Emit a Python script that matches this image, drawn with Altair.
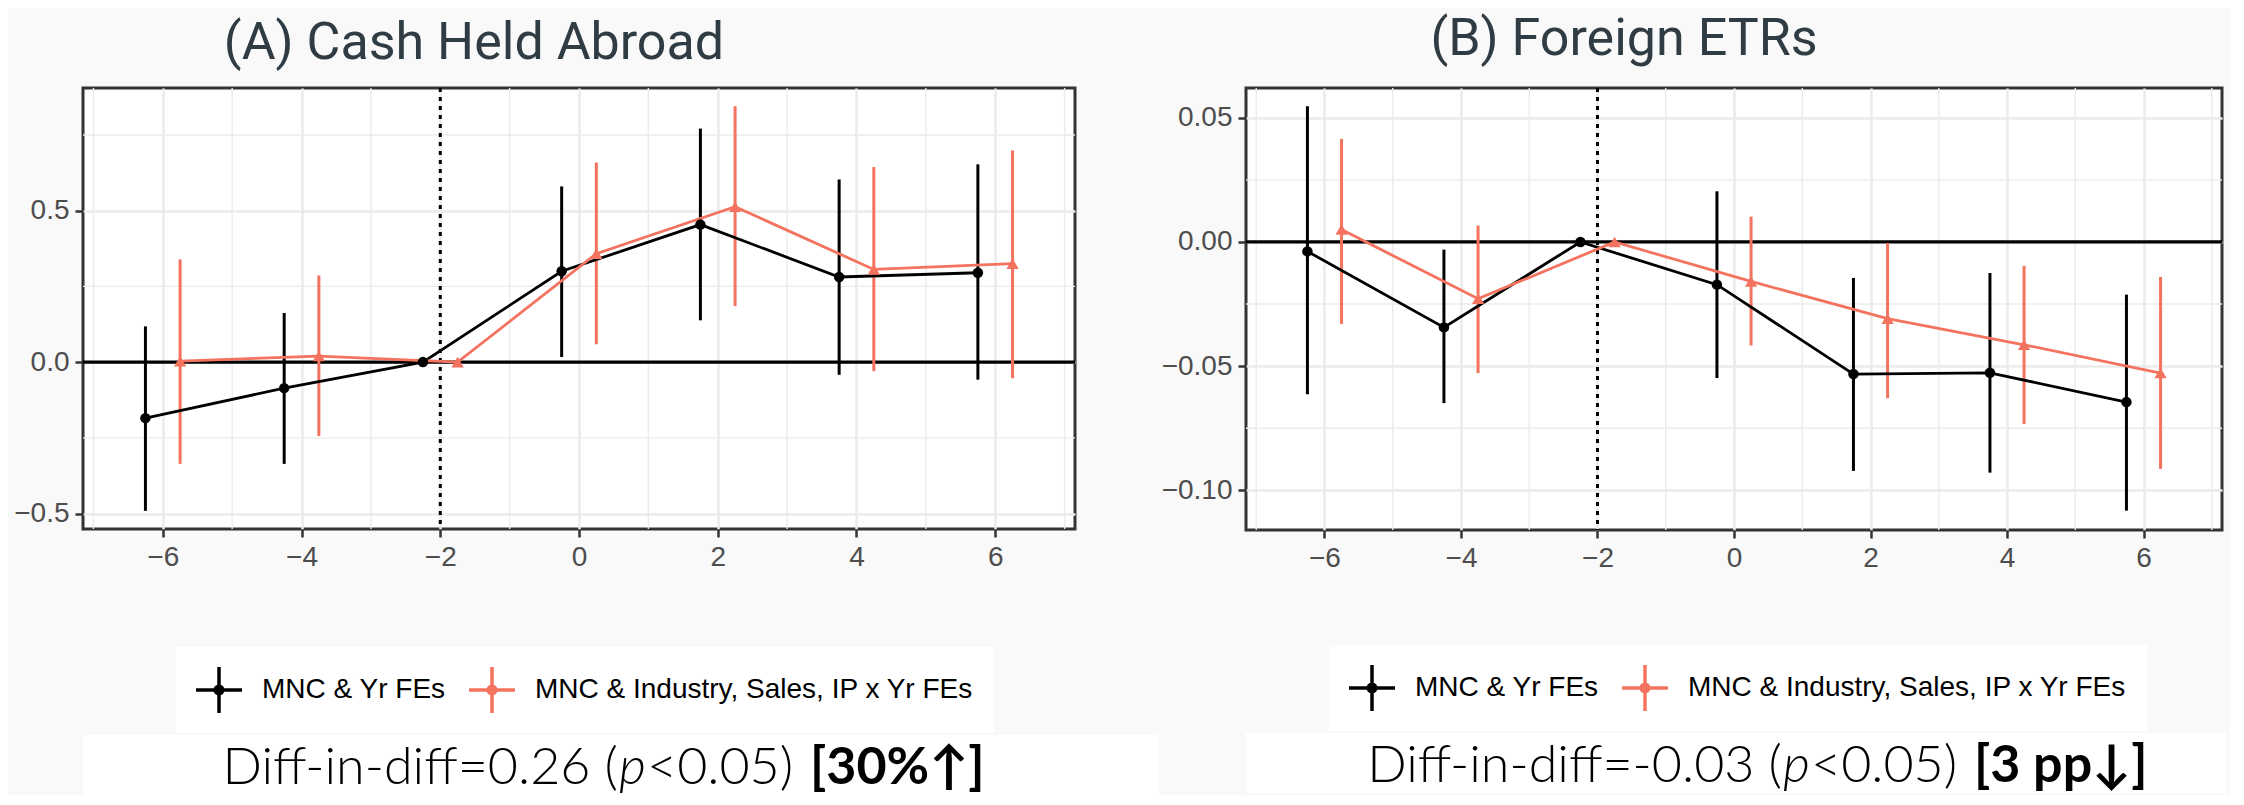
import altair as alt
import pandas as pd

# ---------------- data ----------------
event_time = [-6, -4, -2, 0, 2, 4, 6]
series_names = ["MNC & Yr FEs", "MNC & Industry, Sales, IP x Yr FEs"]
series_colors = ["#000000", "#F4735F"]
series_shapes = ["circle", "triangle-up"]
dodge = [-0.25, 0.25]

a_black_est = [-0.185, -0.086, 0.0, 0.300, 0.454, 0.281, 0.295]
a_black_lo = [-0.491, -0.336, 0.0, 0.017, 0.138, -0.042, -0.058]
a_black_hi = [0.118, 0.162, 0.0, 0.580, 0.771, 0.603, 0.653]
a_red_est = [0.003, 0.020, 0.0, 0.358, 0.513, 0.306, 0.325]
a_red_lo = [-0.336, -0.244, 0.0, 0.059, 0.185, -0.030, -0.053]
a_red_hi = [0.339, 0.286, 0.0, 0.659, 0.845, 0.644, 0.699]

b_black_est = [-0.0038, -0.0344, 0.0, -0.0172, -0.0532, -0.0527, -0.0645]
b_black_lo = [-0.0613, -0.0649, 0.0, -0.0548, -0.0922, -0.0929, -0.1082]
b_black_hi = [0.0547, -0.0031, 0.0, 0.0204, -0.0145, -0.0125, -0.0212]
b_red_est = [0.0050, -0.0229, 0.0, -0.0159, -0.0309, -0.0414, -0.0528]
b_red_lo = [-0.0330, -0.0528, 0.0, -0.0417, -0.0629, -0.0733, -0.0914]
b_red_hi = [0.0415, 0.0066, 0.0, 0.0102, -0.0004, -0.0096, -0.0141]

titles = ["(A) Cash Held Abroad", "(B) Foreign ETRs"]
caption_a = ["Diff-in-diff=0.26 (", "p", "<0.05) ", "[30%\u2191]"]
caption_b = ["Diff-in-diff=-0.03 (", "p", "<0.05) ", "[3 pp\u2193]"]

x_major = [-6, -4, -2, 0, 2, 4, 6]
x_minor = [-7, -5, -3, -1, 1, 3, 5, 7]
a_y_major = [-0.5, 0.0, 0.5]
a_y_minor = [-0.25, 0.25, 0.75]
b_y_major = [-0.10, -0.05, 0.0, 0.05]
b_y_minor = [-0.075, -0.025, 0.025]
ref_x = [-2]
ref_y = [0]

# ---------------- helpers ----------------
GRID = "#ebebeb"
DARK = "#333333"
LABEL = "#4d4d4d"
TICKFONT = "Liberation Sans"
CAPFONT = "Lato"
POINT_SIZES = [110, 150]


def make_df(est_lists, lo_lists, hi_lists):
    rows = []
    for s, name in enumerate(series_names):
        for i, t in enumerate(event_time):
            rows.append({
                "series": name,
                "x": t + dodge[s],
                "est": est_lists[s][i],
                "lo": lo_lists[s][i],
                "hi": hi_lists[s][i],
            })
    return pd.DataFrame(rows)


# legend glyph: a filled cross with a dot (point-range look)
sym_path = ("M-1,-0.076L1,-0.076L1,0.076L-1,0.076Z"
            "M-0.076,-1L0.076,-1L0.076,1L-0.076,1Z"
            "M0.24,0A0.24,0.24,0,1,1,-0.24,0A0.24,0.24,0,1,1,0.24,0Z")


def panel(df, y_domain, y_major, y_minor, y_fmt, title, title_dx, title_offset,
          width, height, legend_x, legend_y, legend_pad):
    xscale = alt.Scale(domain=[-7.15, 7.15], nice=False, zero=False)
    yscale = alt.Scale(domain=y_domain, nice=False, zero=False)
    xaxis = alt.Axis(values=x_major, format="d", title=None, grid=True,
                     gridColor=GRID, gridWidth=2.5, domain=False,
                     tickColor=DARK, tickWidth=2.5, tickSize=8, labelPadding=6,
                     labelFont=TICKFONT, labelFontSize=28, labelColor=LABEL)
    yaxis = alt.Axis(values=y_major, format=y_fmt, title=None, grid=True,
                     gridColor=GRID, gridWidth=2.5, domain=False,
                     tickColor=DARK, tickWidth=2.5, tickSize=8, labelPadding=6,
                     labelFont=TICKFONT, labelFontSize=28, labelColor=LABEL)
    legend = alt.Legend(
        title=None, orient="none", legendX=legend_x, legendY=legend_y,
        direction="horizontal", fillColor="white",
        padding=legend_pad, labelFont=TICKFONT, labelFontSize=28,
        labelColor="#000000", labelOffset=20, labelLimit=1000,
        columnPadding=23, symbolType=sym_path, symbolSize=2116,
        symbolStrokeWidth=0, symbolOpacity=1,
    )
    cscale = alt.Scale(domain=series_names, range=series_colors)

    X = lambda f: alt.X(f, type="quantitative", scale=xscale, axis=xaxis)
    Y = lambda f: alt.Y(f, type="quantitative", scale=yscale, axis=yaxis)
    C = alt.Color("series:N", scale=cscale, legend=legend, sort=series_names)

    minor_v = alt.Chart(pd.DataFrame({"v": x_minor})).mark_rule(
        color=GRID, strokeWidth=1.4).encode(x=X("v"))
    minor_h = alt.Chart(pd.DataFrame({"v": y_minor})).mark_rule(
        color=GRID, strokeWidth=1.4).encode(y=Y("v"))
    zero = alt.Chart(pd.DataFrame({"v": ref_y})).mark_rule(
        color="#000000", strokeWidth=3.2).encode(y=Y("v"))
    vline = alt.Chart(pd.DataFrame({"v": ref_x})).mark_rule(
        color="#000000", strokeWidth=3, strokeDash=[4, 5]).encode(x=X("v"))

    base = alt.Chart(df)
    ci = base.mark_rule(strokeWidth=3).encode(
        x=X("x"), y=Y("lo"), y2="hi", color=C)
    lines = base.mark_line(strokeWidth=2.8).encode(
        x=X("x"), y=Y("est"), color=C, detail="series:N")
    pts = []
    for name, shp, sz in zip(series_names, series_shapes, POINT_SIZES):
        pts.append(
            base.transform_filter(alt.datum.series == name)
            .mark_point(filled=True, size=sz, opacity=1, shape=shp)
            .encode(x=X("x"), y=Y("est"), color=C)
        )

    return alt.layer(minor_v, minor_h, zero, vline, ci, lines, *pts).properties(
        width=width, height=height,
        title=alt.TitleParams(
            text=title, font="Roboto", fontSize=52, fontWeight="normal",
            color="#2f3c44", anchor="middle", frame="group", dx=title_dx,
            offset=title_offset),
    )


def caption(pieces, xs, width, height, base_y):
    styles = [
        dict(align="right", fontStyle="normal", fontWeight=300),
        dict(align="left", fontStyle="italic", fontWeight=300),
        dict(align="left", fontStyle="normal", fontWeight=300),
        dict(align="left", fontStyle="normal", fontWeight="bold"),
    ]
    layers = []
    for piece, xpos, st in zip(pieces, xs, styles):
        layers.append(
            alt.Chart(pd.DataFrame({"t": [piece]})).mark_text(
                font=CAPFONT, fontSize=52, color="#000000",
                baseline="alphabetic", **st
            ).encode(text="t:N", x=alt.value(xpos), y=alt.value(base_y))
        )
    return alt.layer(*layers).properties(
        width=width, height=height,
        view=alt.ViewBackground(fill="white", strokeWidth=0),
    )


df_a = make_df([a_black_est, a_red_est], [a_black_lo, a_red_lo], [a_black_hi, a_red_hi])
df_b = make_df([b_black_est, b_red_est], [b_black_lo, b_red_lo], [b_black_hi, b_red_hi])

main_a = panel(df_a, [-0.551, 0.905], a_y_major, a_y_minor, ".1f", titles[0],
               -105, 17, 992, 441, 93, 559, 20)
main_b = panel(df_b, [-0.116, 0.062], b_y_major, b_y_minor, ".2f", titles[1],
               -110, 21, 976, 442, 83, 557, 20)

cap_a = caption(caption_a, [535, 536, 564, 727], 1076, 60, 49)
cap_b = caption(caption_b, [536, 537, 565, 728], 980, 60, 49)

col_a = alt.vconcat(main_a, cap_a, spacing=0).resolve_scale(color="independent")
col_b = alt.vconcat(main_b, cap_b, spacing=0).resolve_scale(color="independent")

chart = alt.hconcat(col_a, col_b, spacing=0).resolve_scale(
    color="independent", x="independent", y="independent"
).properties(
    background="#f9f9f9",
    padding={"left": 4, "top": 3, "right": 4, "bottom": 0},
).configure_view(stroke=DARK, strokeWidth=3, fill="white")

chart.save("out.html", embed_options={"renderer": "svg", "actions": False})
